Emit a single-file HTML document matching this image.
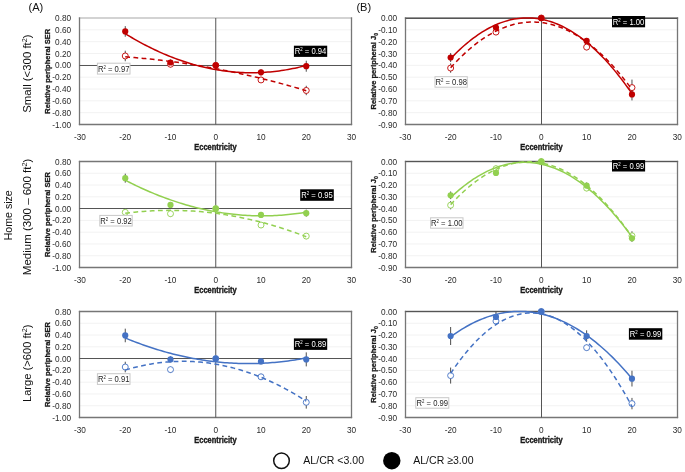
<!DOCTYPE html>
<html><head><meta charset="utf-8"><style>html,body{margin:0;padding:0;background:#fff;}svg{display:block;will-change:transform;}</style></head>
<body><svg width="685" height="472" viewBox="0 0 685 472"><rect width="685" height="472" fill="#fff"/><line x1="79.5" y1="29.83" x2="351.5" y2="29.83" stroke="#f2f2f2" stroke-width="1"/><line x1="79.5" y1="41.67" x2="351.5" y2="41.67" stroke="#f2f2f2" stroke-width="1"/><line x1="79.5" y1="53.50" x2="351.5" y2="53.50" stroke="#f2f2f2" stroke-width="1"/><line x1="79.5" y1="65.33" x2="351.5" y2="65.33" stroke="#f2f2f2" stroke-width="1"/><line x1="79.5" y1="77.17" x2="351.5" y2="77.17" stroke="#f2f2f2" stroke-width="1"/><line x1="79.5" y1="89.00" x2="351.5" y2="89.00" stroke="#f2f2f2" stroke-width="1"/><line x1="79.5" y1="100.83" x2="351.5" y2="100.83" stroke="#f2f2f2" stroke-width="1"/><line x1="79.5" y1="112.67" x2="351.5" y2="112.67" stroke="#f2f2f2" stroke-width="1"/><line x1="79.5" y1="18.0" x2="351.5" y2="18.0" stroke="#c4c4c4" stroke-width="1.3" stroke-linecap="square"/><line x1="79.5" y1="18.0" x2="79.5" y2="124.5" stroke="#767676" stroke-width="1.3" stroke-linecap="square"/><line x1="351.5" y1="18.0" x2="351.5" y2="124.5" stroke="#767676" stroke-width="1.3" stroke-linecap="square"/><line x1="79.5" y1="124.5" x2="351.5" y2="124.5" stroke="#767676" stroke-width="1.3" stroke-linecap="square"/><line x1="215.75" y1="18.0" x2="215.75" y2="124.5" stroke="#555" stroke-width="1"/><line x1="79.5" y1="65.50" x2="351.5" y2="65.50" stroke="#555" stroke-width="1"/><text transform="translate(71.10,21.00) scale(0.95,1)" font-family="Liberation Sans, sans-serif" font-size="8.7" fill="#2a2a2a" text-anchor="end">0.80</text><text transform="translate(71.10,32.83) scale(0.95,1)" font-family="Liberation Sans, sans-serif" font-size="8.7" fill="#2a2a2a" text-anchor="end">0.60</text><text transform="translate(71.10,44.67) scale(0.95,1)" font-family="Liberation Sans, sans-serif" font-size="8.7" fill="#2a2a2a" text-anchor="end">0.40</text><text transform="translate(71.10,56.50) scale(0.95,1)" font-family="Liberation Sans, sans-serif" font-size="8.7" fill="#2a2a2a" text-anchor="end">0.20</text><text transform="translate(71.10,68.33) scale(0.95,1)" font-family="Liberation Sans, sans-serif" font-size="8.7" fill="#2a2a2a" text-anchor="end">0.00</text><text transform="translate(71.10,80.17) scale(0.95,1)" font-family="Liberation Sans, sans-serif" font-size="8.7" fill="#2a2a2a" text-anchor="end">-0.20</text><text transform="translate(71.10,92.00) scale(0.95,1)" font-family="Liberation Sans, sans-serif" font-size="8.7" fill="#2a2a2a" text-anchor="end">-0.40</text><text transform="translate(71.10,103.83) scale(0.95,1)" font-family="Liberation Sans, sans-serif" font-size="8.7" fill="#2a2a2a" text-anchor="end">-0.60</text><text transform="translate(71.10,115.67) scale(0.95,1)" font-family="Liberation Sans, sans-serif" font-size="8.7" fill="#2a2a2a" text-anchor="end">-0.80</text><text transform="translate(71.10,127.50) scale(0.95,1)" font-family="Liberation Sans, sans-serif" font-size="8.7" fill="#2a2a2a" text-anchor="end">-1.00</text><text transform="translate(80.00,139.50) scale(0.95,1)" font-family="Liberation Sans, sans-serif" font-size="8.7" fill="#2a2a2a" text-anchor="middle">-30</text><text transform="translate(125.25,139.50) scale(0.95,1)" font-family="Liberation Sans, sans-serif" font-size="8.7" fill="#2a2a2a" text-anchor="middle">-20</text><text transform="translate(170.50,139.50) scale(0.95,1)" font-family="Liberation Sans, sans-serif" font-size="8.7" fill="#2a2a2a" text-anchor="middle">-10</text><text transform="translate(215.75,139.50) scale(0.95,1)" font-family="Liberation Sans, sans-serif" font-size="8.7" fill="#2a2a2a" text-anchor="middle">0</text><text transform="translate(261.00,139.50) scale(0.95,1)" font-family="Liberation Sans, sans-serif" font-size="8.7" fill="#2a2a2a" text-anchor="middle">10</text><text transform="translate(306.25,139.50) scale(0.95,1)" font-family="Liberation Sans, sans-serif" font-size="8.7" fill="#2a2a2a" text-anchor="middle">20</text><text transform="translate(351.50,139.50) scale(0.95,1)" font-family="Liberation Sans, sans-serif" font-size="8.7" fill="#2a2a2a" text-anchor="middle">30</text><text transform="translate(215.50,150.00) scale(0.916,1)" font-family="Liberation Sans, sans-serif" font-size="8.2" font-weight="bold" fill="#1a1a1a" stroke="#1a1a1a" stroke-width="0.35" text-anchor="middle">Eccentricity</text><text transform="translate(50.3,71.25) rotate(-90) scale(0.955,1)" font-family="Liberation Sans, sans-serif" font-size="7.9" font-weight="bold" fill="#1a1a1a" stroke="#1a1a1a" stroke-width="0.3" text-anchor="middle">Relative peripheral SER</text><line x1="125.25" y1="50.69" x2="125.25" y2="61.28" stroke="#4d4d4d" stroke-width="1"/><line x1="125.25" y1="26.13" x2="125.25" y2="36.73" stroke="#4d4d4d" stroke-width="1"/><line x1="170.50" y1="61.27" x2="170.50" y2="67.27" stroke="#4d4d4d" stroke-width="1"/><line x1="170.50" y1="59.49" x2="170.50" y2="65.49" stroke="#4d4d4d" stroke-width="1"/><line x1="215.75" y1="62.33" x2="215.75" y2="68.33" stroke="#4d4d4d" stroke-width="1"/><line x1="215.75" y1="62.33" x2="215.75" y2="68.33" stroke="#4d4d4d" stroke-width="1"/><line x1="261.00" y1="76.95" x2="261.00" y2="82.95" stroke="#4d4d4d" stroke-width="1"/><line x1="261.00" y1="69.37" x2="261.00" y2="75.37" stroke="#4d4d4d" stroke-width="1"/><line x1="306.25" y1="85.78" x2="306.25" y2="95.18" stroke="#4d4d4d" stroke-width="1"/><line x1="306.25" y1="60.72" x2="306.25" y2="71.72" stroke="#4d4d4d" stroke-width="1"/><circle cx="125.25" cy="55.98" r="3.0" fill="#fff" stroke="#C00000" stroke-width="0.9"/><circle cx="170.50" cy="64.27" r="3.0" fill="#fff" stroke="#C00000" stroke-width="0.9"/><circle cx="215.75" cy="65.33" r="3.0" fill="#fff" stroke="#C00000" stroke-width="0.9"/><circle cx="261.00" cy="79.95" r="3.0" fill="#fff" stroke="#C00000" stroke-width="0.9"/><circle cx="306.25" cy="90.48" r="3.0" fill="#fff" stroke="#C00000" stroke-width="0.9"/><circle cx="125.25" cy="31.43" r="3.1" fill="#C00000"/><circle cx="170.50" cy="62.49" r="3.1" fill="#C00000"/><circle cx="215.75" cy="65.33" r="3.1" fill="#C00000"/><circle cx="261.00" cy="72.37" r="3.1" fill="#C00000"/><circle cx="306.25" cy="66.22" r="3.1" fill="#C00000"/><path d="M125.25,56.85 L127.51,57.02 L129.78,57.19 L132.04,57.37 L134.30,57.56 L136.56,57.76 L138.82,57.96 L141.09,58.16 L143.35,58.38 L145.61,58.60 L147.88,58.82 L150.14,59.06 L152.40,59.30 L154.66,59.54 L156.93,59.80 L159.19,60.06 L161.45,60.32 L163.71,60.59 L165.97,60.87 L168.24,61.16 L170.50,61.45 L172.76,61.74 L175.02,62.05 L177.29,62.36 L179.55,62.68 L181.81,63.00 L184.07,63.33 L186.34,63.67 L188.60,64.01 L190.86,64.36 L193.12,64.71 L195.39,65.08 L197.65,65.44 L199.91,65.82 L202.18,66.20 L204.44,66.59 L206.70,66.98 L208.96,67.38 L211.22,67.79 L213.49,68.20 L215.75,68.62 L218.01,69.05 L220.28,69.48 L222.54,69.92 L224.80,70.37 L227.06,70.82 L229.33,71.28 L231.59,71.75 L233.85,72.22 L236.11,72.70 L238.38,73.18 L240.64,73.67 L242.90,74.17 L245.16,74.67 L247.43,75.18 L249.69,75.70 L251.95,76.22 L254.21,76.75 L256.48,77.29 L258.74,77.83 L261.00,78.38 L263.26,78.94 L265.52,79.50 L267.79,80.07 L270.05,80.64 L272.31,81.22 L274.57,81.81 L276.84,82.40 L279.10,83.00 L281.36,83.61 L283.62,84.23 L285.89,84.84 L288.15,85.47 L290.41,86.10 L292.68,86.74 L294.94,87.39 L297.20,88.04 L299.46,88.70 L301.73,89.36 L303.99,90.04 L306.25,90.71" fill="none" stroke="#C00000" stroke-width="1.5" stroke-dasharray="4.8 3.4"/><path d="M125.25,33.65 L127.51,35.03 L129.78,36.40 L132.04,37.73 L134.30,39.05 L136.56,40.33 L138.82,41.60 L141.09,42.84 L143.35,44.05 L145.61,45.23 L147.88,46.40 L150.14,47.53 L152.40,48.65 L154.66,49.73 L156.93,50.80 L159.19,51.83 L161.45,52.84 L163.71,53.83 L165.97,54.79 L168.24,55.73 L170.50,56.64 L172.76,57.53 L175.02,58.39 L177.29,59.22 L179.55,60.04 L181.81,60.82 L184.07,61.58 L186.34,62.32 L188.60,63.03 L190.86,63.72 L193.12,64.38 L195.39,65.01 L197.65,65.62 L199.91,66.21 L202.18,66.77 L204.44,67.30 L206.70,67.81 L208.96,68.30 L211.22,68.76 L213.49,69.19 L215.75,69.60 L218.01,69.99 L220.28,70.35 L222.54,70.68 L224.80,70.99 L227.06,71.28 L229.33,71.54 L231.59,71.77 L233.85,71.98 L236.11,72.16 L238.38,72.32 L240.64,72.46 L242.90,72.57 L245.16,72.65 L247.43,72.71 L249.69,72.74 L251.95,72.75 L254.21,72.73 L256.48,72.69 L258.74,72.62 L261.00,72.53 L263.26,72.42 L265.52,72.27 L267.79,72.11 L270.05,71.92 L272.31,71.70 L274.57,71.46 L276.84,71.19 L279.10,70.90 L281.36,70.58 L283.62,70.24 L285.89,69.87 L288.15,69.48 L290.41,69.06 L292.68,68.61 L294.94,68.15 L297.20,67.65 L299.46,67.13 L301.73,66.59 L303.99,66.02 L306.25,65.43" fill="none" stroke="#C00000" stroke-width="1.5"/><line x1="79.5" y1="173.28" x2="351.5" y2="173.28" stroke="#f2f2f2" stroke-width="1"/><line x1="79.5" y1="185.06" x2="351.5" y2="185.06" stroke="#f2f2f2" stroke-width="1"/><line x1="79.5" y1="196.83" x2="351.5" y2="196.83" stroke="#f2f2f2" stroke-width="1"/><line x1="79.5" y1="208.61" x2="351.5" y2="208.61" stroke="#f2f2f2" stroke-width="1"/><line x1="79.5" y1="220.39" x2="351.5" y2="220.39" stroke="#f2f2f2" stroke-width="1"/><line x1="79.5" y1="232.17" x2="351.5" y2="232.17" stroke="#f2f2f2" stroke-width="1"/><line x1="79.5" y1="243.94" x2="351.5" y2="243.94" stroke="#f2f2f2" stroke-width="1"/><line x1="79.5" y1="255.72" x2="351.5" y2="255.72" stroke="#f2f2f2" stroke-width="1"/><line x1="79.5" y1="161.5" x2="351.5" y2="161.5" stroke="#767676" stroke-width="1.3" stroke-linecap="square"/><line x1="79.5" y1="161.5" x2="79.5" y2="267.5" stroke="#767676" stroke-width="1.3" stroke-linecap="square"/><line x1="351.5" y1="161.5" x2="351.5" y2="267.5" stroke="#767676" stroke-width="1.3" stroke-linecap="square"/><line x1="79.5" y1="267.5" x2="351.5" y2="267.5" stroke="#767676" stroke-width="1.3" stroke-linecap="square"/><line x1="215.75" y1="161.5" x2="215.75" y2="267.5" stroke="#555" stroke-width="1"/><line x1="79.5" y1="208.50" x2="351.5" y2="208.50" stroke="#555" stroke-width="1"/><text transform="translate(71.10,164.50) scale(0.95,1)" font-family="Liberation Sans, sans-serif" font-size="8.7" fill="#2a2a2a" text-anchor="end">0.80</text><text transform="translate(71.10,176.28) scale(0.95,1)" font-family="Liberation Sans, sans-serif" font-size="8.7" fill="#2a2a2a" text-anchor="end">0.60</text><text transform="translate(71.10,188.06) scale(0.95,1)" font-family="Liberation Sans, sans-serif" font-size="8.7" fill="#2a2a2a" text-anchor="end">0.40</text><text transform="translate(71.10,199.83) scale(0.95,1)" font-family="Liberation Sans, sans-serif" font-size="8.7" fill="#2a2a2a" text-anchor="end">0.20</text><text transform="translate(71.10,211.61) scale(0.95,1)" font-family="Liberation Sans, sans-serif" font-size="8.7" fill="#2a2a2a" text-anchor="end">0.00</text><text transform="translate(71.10,223.39) scale(0.95,1)" font-family="Liberation Sans, sans-serif" font-size="8.7" fill="#2a2a2a" text-anchor="end">-0.20</text><text transform="translate(71.10,235.17) scale(0.95,1)" font-family="Liberation Sans, sans-serif" font-size="8.7" fill="#2a2a2a" text-anchor="end">-0.40</text><text transform="translate(71.10,246.94) scale(0.95,1)" font-family="Liberation Sans, sans-serif" font-size="8.7" fill="#2a2a2a" text-anchor="end">-0.60</text><text transform="translate(71.10,258.72) scale(0.95,1)" font-family="Liberation Sans, sans-serif" font-size="8.7" fill="#2a2a2a" text-anchor="end">-0.80</text><text transform="translate(71.10,270.50) scale(0.95,1)" font-family="Liberation Sans, sans-serif" font-size="8.7" fill="#2a2a2a" text-anchor="end">-1.00</text><text transform="translate(80.00,282.50) scale(0.95,1)" font-family="Liberation Sans, sans-serif" font-size="8.7" fill="#2a2a2a" text-anchor="middle">-30</text><text transform="translate(125.25,282.50) scale(0.95,1)" font-family="Liberation Sans, sans-serif" font-size="8.7" fill="#2a2a2a" text-anchor="middle">-20</text><text transform="translate(170.50,282.50) scale(0.95,1)" font-family="Liberation Sans, sans-serif" font-size="8.7" fill="#2a2a2a" text-anchor="middle">-10</text><text transform="translate(215.75,282.50) scale(0.95,1)" font-family="Liberation Sans, sans-serif" font-size="8.7" fill="#2a2a2a" text-anchor="middle">0</text><text transform="translate(261.00,282.50) scale(0.95,1)" font-family="Liberation Sans, sans-serif" font-size="8.7" fill="#2a2a2a" text-anchor="middle">10</text><text transform="translate(306.25,282.50) scale(0.95,1)" font-family="Liberation Sans, sans-serif" font-size="8.7" fill="#2a2a2a" text-anchor="middle">20</text><text transform="translate(351.50,282.50) scale(0.95,1)" font-family="Liberation Sans, sans-serif" font-size="8.7" fill="#2a2a2a" text-anchor="middle">30</text><text transform="translate(215.50,293.00) scale(0.916,1)" font-family="Liberation Sans, sans-serif" font-size="8.2" font-weight="bold" fill="#1a1a1a" stroke="#1a1a1a" stroke-width="0.35" text-anchor="middle">Eccentricity</text><text transform="translate(50.3,214.50) rotate(-90) scale(0.955,1)" font-family="Liberation Sans, sans-serif" font-size="7.9" font-weight="bold" fill="#1a1a1a" stroke="#1a1a1a" stroke-width="0.3" text-anchor="middle">Relative peripheral SER</text><line x1="125.25" y1="209.32" x2="125.25" y2="215.32" stroke="#4d4d4d" stroke-width="1"/><line x1="125.25" y1="173.67" x2="125.25" y2="182.67" stroke="#4d4d4d" stroke-width="1"/><line x1="170.50" y1="210.73" x2="170.50" y2="216.73" stroke="#4d4d4d" stroke-width="1"/><line x1="170.50" y1="201.96" x2="170.50" y2="207.96" stroke="#4d4d4d" stroke-width="1"/><line x1="215.75" y1="205.61" x2="215.75" y2="211.61" stroke="#4d4d4d" stroke-width="1"/><line x1="215.75" y1="205.61" x2="215.75" y2="211.61" stroke="#4d4d4d" stroke-width="1"/><line x1="261.00" y1="222.04" x2="261.00" y2="228.04" stroke="#4d4d4d" stroke-width="1"/><line x1="261.00" y1="211.97" x2="261.00" y2="217.97" stroke="#4d4d4d" stroke-width="1"/><line x1="306.25" y1="233.11" x2="306.25" y2="239.11" stroke="#4d4d4d" stroke-width="1"/><line x1="306.25" y1="209.65" x2="306.25" y2="216.65" stroke="#4d4d4d" stroke-width="1"/><circle cx="125.25" cy="212.32" r="3.0" fill="#fff" stroke="#92D050" stroke-width="0.9"/><circle cx="170.50" cy="213.73" r="3.0" fill="#fff" stroke="#92D050" stroke-width="0.9"/><circle cx="215.75" cy="208.61" r="3.0" fill="#fff" stroke="#92D050" stroke-width="0.9"/><circle cx="261.00" cy="225.04" r="3.0" fill="#fff" stroke="#92D050" stroke-width="0.9"/><circle cx="306.25" cy="236.11" r="3.0" fill="#fff" stroke="#92D050" stroke-width="0.9"/><circle cx="125.25" cy="178.17" r="3.1" fill="#92D050"/><circle cx="170.50" cy="204.96" r="3.1" fill="#92D050"/><circle cx="215.75" cy="208.61" r="3.1" fill="#92D050"/><circle cx="261.00" cy="214.97" r="3.1" fill="#92D050"/><circle cx="306.25" cy="213.15" r="3.1" fill="#92D050"/><path d="M125.25,213.22 L127.51,212.94 L129.78,212.68 L132.04,212.42 L134.30,212.18 L136.56,211.96 L138.82,211.75 L141.09,211.56 L143.35,211.38 L145.61,211.21 L147.88,211.06 L150.14,210.92 L152.40,210.80 L154.66,210.70 L156.93,210.60 L159.19,210.53 L161.45,210.46 L163.71,210.41 L165.97,210.38 L168.24,210.36 L170.50,210.36 L172.76,210.37 L175.02,210.39 L177.29,210.43 L179.55,210.48 L181.81,210.55 L184.07,210.63 L186.34,210.73 L188.60,210.84 L190.86,210.97 L193.12,211.11 L195.39,211.27 L197.65,211.44 L199.91,211.62 L202.18,211.82 L204.44,212.04 L206.70,212.26 L208.96,212.51 L211.22,212.77 L213.49,213.04 L215.75,213.33 L218.01,213.63 L220.28,213.94 L222.54,214.27 L224.80,214.62 L227.06,214.98 L229.33,215.35 L231.59,215.74 L233.85,216.15 L236.11,216.57 L238.38,217.00 L240.64,217.45 L242.90,217.91 L245.16,218.39 L247.43,218.88 L249.69,219.38 L251.95,219.90 L254.21,220.44 L256.48,220.99 L258.74,221.55 L261.00,222.13 L263.26,222.73 L265.52,223.34 L267.79,223.96 L270.05,224.60 L272.31,225.25 L274.57,225.91 L276.84,226.60 L279.10,227.29 L281.36,228.00 L283.62,228.73 L285.89,229.47 L288.15,230.22 L290.41,230.99 L292.68,231.77 L294.94,232.57 L297.20,233.38 L299.46,234.21 L301.73,235.05 L303.99,235.91 L306.25,236.78" fill="none" stroke="#92D050" stroke-width="1.5" stroke-dasharray="4.8 3.4"/><path d="M125.25,180.19 L127.51,181.36 L129.78,182.51 L132.04,183.64 L134.30,184.75 L136.56,185.84 L138.82,186.91 L141.09,187.96 L143.35,188.99 L145.61,190.01 L147.88,191.00 L150.14,191.98 L152.40,192.93 L154.66,193.87 L156.93,194.78 L159.19,195.68 L161.45,196.56 L163.71,197.41 L165.97,198.25 L168.24,199.07 L170.50,199.87 L172.76,200.65 L175.02,201.41 L177.29,202.15 L179.55,202.87 L181.81,203.57 L184.07,204.25 L186.34,204.92 L188.60,205.56 L190.86,206.18 L193.12,206.79 L195.39,207.37 L197.65,207.94 L199.91,208.48 L202.18,209.01 L204.44,209.52 L206.70,210.01 L208.96,210.47 L211.22,210.92 L213.49,211.35 L215.75,211.76 L218.01,212.15 L220.28,212.52 L222.54,212.87 L224.80,213.20 L227.06,213.52 L229.33,213.81 L231.59,214.08 L233.85,214.34 L236.11,214.57 L238.38,214.79 L240.64,214.98 L242.90,215.16 L245.16,215.31 L247.43,215.45 L249.69,215.57 L251.95,215.67 L254.21,215.74 L256.48,215.80 L258.74,215.84 L261.00,215.86 L263.26,215.86 L265.52,215.84 L267.79,215.81 L270.05,215.75 L272.31,215.67 L274.57,215.57 L276.84,215.46 L279.10,215.32 L281.36,215.17 L283.62,214.99 L285.89,214.80 L288.15,214.58 L290.41,214.35 L292.68,214.10 L294.94,213.83 L297.20,213.54 L299.46,213.22 L301.73,212.89 L303.99,212.54 L306.25,212.17" fill="none" stroke="#92D050" stroke-width="1.5"/><line x1="79.5" y1="323.28" x2="351.5" y2="323.28" stroke="#f2f2f2" stroke-width="1"/><line x1="79.5" y1="335.06" x2="351.5" y2="335.06" stroke="#f2f2f2" stroke-width="1"/><line x1="79.5" y1="346.83" x2="351.5" y2="346.83" stroke="#f2f2f2" stroke-width="1"/><line x1="79.5" y1="358.61" x2="351.5" y2="358.61" stroke="#f2f2f2" stroke-width="1"/><line x1="79.5" y1="370.39" x2="351.5" y2="370.39" stroke="#f2f2f2" stroke-width="1"/><line x1="79.5" y1="382.17" x2="351.5" y2="382.17" stroke="#f2f2f2" stroke-width="1"/><line x1="79.5" y1="393.94" x2="351.5" y2="393.94" stroke="#f2f2f2" stroke-width="1"/><line x1="79.5" y1="405.72" x2="351.5" y2="405.72" stroke="#f2f2f2" stroke-width="1"/><line x1="79.5" y1="311.5" x2="351.5" y2="311.5" stroke="#767676" stroke-width="1.3" stroke-linecap="square"/><line x1="79.5" y1="311.5" x2="79.5" y2="417.5" stroke="#767676" stroke-width="1.3" stroke-linecap="square"/><line x1="351.5" y1="311.5" x2="351.5" y2="417.5" stroke="#767676" stroke-width="1.3" stroke-linecap="square"/><line x1="79.5" y1="417.5" x2="351.5" y2="417.5" stroke="#767676" stroke-width="1.3" stroke-linecap="square"/><line x1="215.75" y1="311.5" x2="215.75" y2="417.5" stroke="#555" stroke-width="1"/><line x1="79.5" y1="358.50" x2="351.5" y2="358.50" stroke="#555" stroke-width="1"/><text transform="translate(71.10,314.50) scale(0.95,1)" font-family="Liberation Sans, sans-serif" font-size="8.7" fill="#2a2a2a" text-anchor="end">0.80</text><text transform="translate(71.10,326.28) scale(0.95,1)" font-family="Liberation Sans, sans-serif" font-size="8.7" fill="#2a2a2a" text-anchor="end">0.60</text><text transform="translate(71.10,338.06) scale(0.95,1)" font-family="Liberation Sans, sans-serif" font-size="8.7" fill="#2a2a2a" text-anchor="end">0.40</text><text transform="translate(71.10,349.83) scale(0.95,1)" font-family="Liberation Sans, sans-serif" font-size="8.7" fill="#2a2a2a" text-anchor="end">0.20</text><text transform="translate(71.10,361.61) scale(0.95,1)" font-family="Liberation Sans, sans-serif" font-size="8.7" fill="#2a2a2a" text-anchor="end">0.00</text><text transform="translate(71.10,373.39) scale(0.95,1)" font-family="Liberation Sans, sans-serif" font-size="8.7" fill="#2a2a2a" text-anchor="end">-0.20</text><text transform="translate(71.10,385.17) scale(0.95,1)" font-family="Liberation Sans, sans-serif" font-size="8.7" fill="#2a2a2a" text-anchor="end">-0.40</text><text transform="translate(71.10,396.94) scale(0.95,1)" font-family="Liberation Sans, sans-serif" font-size="8.7" fill="#2a2a2a" text-anchor="end">-0.60</text><text transform="translate(71.10,408.72) scale(0.95,1)" font-family="Liberation Sans, sans-serif" font-size="8.7" fill="#2a2a2a" text-anchor="end">-0.80</text><text transform="translate(71.10,420.50) scale(0.95,1)" font-family="Liberation Sans, sans-serif" font-size="8.7" fill="#2a2a2a" text-anchor="end">-1.00</text><text transform="translate(80.00,432.50) scale(0.95,1)" font-family="Liberation Sans, sans-serif" font-size="8.7" fill="#2a2a2a" text-anchor="middle">-30</text><text transform="translate(125.25,432.50) scale(0.95,1)" font-family="Liberation Sans, sans-serif" font-size="8.7" fill="#2a2a2a" text-anchor="middle">-20</text><text transform="translate(170.50,432.50) scale(0.95,1)" font-family="Liberation Sans, sans-serif" font-size="8.7" fill="#2a2a2a" text-anchor="middle">-10</text><text transform="translate(215.75,432.50) scale(0.95,1)" font-family="Liberation Sans, sans-serif" font-size="8.7" fill="#2a2a2a" text-anchor="middle">0</text><text transform="translate(261.00,432.50) scale(0.95,1)" font-family="Liberation Sans, sans-serif" font-size="8.7" fill="#2a2a2a" text-anchor="middle">10</text><text transform="translate(306.25,432.50) scale(0.95,1)" font-family="Liberation Sans, sans-serif" font-size="8.7" fill="#2a2a2a" text-anchor="middle">20</text><text transform="translate(351.50,432.50) scale(0.95,1)" font-family="Liberation Sans, sans-serif" font-size="8.7" fill="#2a2a2a" text-anchor="middle">30</text><text transform="translate(215.50,443.00) scale(0.916,1)" font-family="Liberation Sans, sans-serif" font-size="8.2" font-weight="bold" fill="#1a1a1a" stroke="#1a1a1a" stroke-width="0.35" text-anchor="middle">Eccentricity</text><text transform="translate(50.3,364.50) rotate(-90) scale(0.955,1)" font-family="Liberation Sans, sans-serif" font-size="7.9" font-weight="bold" fill="#1a1a1a" stroke="#1a1a1a" stroke-width="0.3" text-anchor="middle">Relative peripheral SER</text><line x1="125.25" y1="361.73" x2="125.25" y2="372.33" stroke="#4d4d4d" stroke-width="1"/><line x1="125.25" y1="328.67" x2="125.25" y2="342.27" stroke="#4d4d4d" stroke-width="1"/><line x1="170.50" y1="366.62" x2="170.50" y2="372.62" stroke="#4d4d4d" stroke-width="1"/><line x1="170.50" y1="356.44" x2="170.50" y2="362.44" stroke="#4d4d4d" stroke-width="1"/><line x1="215.75" y1="355.61" x2="215.75" y2="361.61" stroke="#4d4d4d" stroke-width="1"/><line x1="215.75" y1="355.61" x2="215.75" y2="361.61" stroke="#4d4d4d" stroke-width="1"/><line x1="261.00" y1="373.81" x2="261.00" y2="379.81" stroke="#4d4d4d" stroke-width="1"/><line x1="261.00" y1="358.44" x2="261.00" y2="364.44" stroke="#4d4d4d" stroke-width="1"/><line x1="306.25" y1="396.01" x2="306.25" y2="408.61" stroke="#4d4d4d" stroke-width="1"/><line x1="306.25" y1="352.38" x2="306.25" y2="366.38" stroke="#4d4d4d" stroke-width="1"/><circle cx="125.25" cy="367.03" r="3.0" fill="#fff" stroke="#4472C4" stroke-width="0.9"/><circle cx="170.50" cy="369.62" r="3.0" fill="#fff" stroke="#4472C4" stroke-width="0.9"/><circle cx="215.75" cy="358.61" r="3.0" fill="#fff" stroke="#4472C4" stroke-width="0.9"/><circle cx="261.00" cy="376.81" r="3.0" fill="#fff" stroke="#4472C4" stroke-width="0.9"/><circle cx="306.25" cy="402.31" r="3.0" fill="#fff" stroke="#4472C4" stroke-width="0.9"/><circle cx="125.25" cy="335.47" r="3.1" fill="#4472C4"/><circle cx="170.50" cy="359.44" r="3.1" fill="#4472C4"/><circle cx="215.75" cy="358.61" r="3.1" fill="#4472C4"/><circle cx="261.00" cy="361.44" r="3.1" fill="#4472C4"/><circle cx="306.25" cy="359.38" r="3.1" fill="#4472C4"/><path d="M125.25,370.05 L127.51,369.38 L129.78,368.73 L132.04,368.12 L134.30,367.53 L136.56,366.97 L138.82,366.43 L141.09,365.92 L143.35,365.44 L145.61,364.98 L147.88,364.56 L150.14,364.15 L152.40,363.78 L154.66,363.43 L156.93,363.11 L159.19,362.82 L161.45,362.55 L163.71,362.31 L165.97,362.09 L168.24,361.90 L170.50,361.74 L172.76,361.61 L175.02,361.50 L177.29,361.42 L179.55,361.37 L181.81,361.34 L184.07,361.34 L186.34,361.37 L188.60,361.42 L190.86,361.50 L193.12,361.61 L195.39,361.75 L197.65,361.91 L199.91,362.09 L202.18,362.31 L204.44,362.55 L206.70,362.82 L208.96,363.11 L211.22,363.43 L213.49,363.78 L215.75,364.16 L218.01,364.56 L220.28,364.99 L222.54,365.45 L224.80,365.93 L227.06,366.44 L229.33,366.97 L231.59,367.54 L233.85,368.13 L236.11,368.74 L238.38,369.38 L240.64,370.05 L242.90,370.75 L245.16,371.48 L247.43,372.23 L249.69,373.00 L251.95,373.81 L254.21,374.64 L256.48,375.50 L258.74,376.38 L261.00,377.29 L263.26,378.23 L265.52,379.19 L267.79,380.18 L270.05,381.20 L272.31,382.25 L274.57,383.32 L276.84,384.42 L279.10,385.54 L281.36,386.70 L283.62,387.88 L285.89,389.08 L288.15,390.31 L290.41,391.57 L292.68,392.86 L294.94,394.17 L297.20,395.51 L299.46,396.88 L301.73,398.27 L303.99,399.69 L306.25,401.14" fill="none" stroke="#4472C4" stroke-width="1.5" stroke-dasharray="4.8 3.4"/><path d="M125.25,337.99 L127.51,338.92 L129.78,339.83 L132.04,340.73 L134.30,341.61 L136.56,342.47 L138.82,343.32 L141.09,344.15 L143.35,344.96 L145.61,345.75 L147.88,346.53 L150.14,347.29 L152.40,348.03 L154.66,348.75 L156.93,349.46 L159.19,350.15 L161.45,350.82 L163.71,351.48 L165.97,352.12 L168.24,352.74 L170.50,353.34 L172.76,353.93 L175.02,354.50 L177.29,355.05 L179.55,355.58 L181.81,356.10 L184.07,356.60 L186.34,357.08 L188.60,357.55 L190.86,357.99 L193.12,358.43 L195.39,358.84 L197.65,359.23 L199.91,359.61 L202.18,359.98 L204.44,360.32 L206.70,360.65 L208.96,360.96 L211.22,361.25 L213.49,361.52 L215.75,361.78 L218.01,362.02 L220.28,362.24 L222.54,362.45 L224.80,362.64 L227.06,362.81 L229.33,362.96 L231.59,363.10 L233.85,363.22 L236.11,363.32 L238.38,363.41 L240.64,363.48 L242.90,363.53 L245.16,363.56 L247.43,363.57 L249.69,363.57 L251.95,363.55 L254.21,363.52 L256.48,363.46 L258.74,363.39 L261.00,363.31 L263.26,363.20 L265.52,363.08 L267.79,362.94 L270.05,362.78 L272.31,362.61 L274.57,362.41 L276.84,362.21 L279.10,361.98 L281.36,361.74 L283.62,361.47 L285.89,361.20 L288.15,360.90 L290.41,360.59 L292.68,360.26 L294.94,359.91 L297.20,359.55 L299.46,359.16 L301.73,358.76 L303.99,358.35 L306.25,357.91" fill="none" stroke="#4472C4" stroke-width="1.5"/><line x1="405.5" y1="29.83" x2="677.5" y2="29.83" stroke="#f2f2f2" stroke-width="1"/><line x1="405.5" y1="41.67" x2="677.5" y2="41.67" stroke="#f2f2f2" stroke-width="1"/><line x1="405.5" y1="53.50" x2="677.5" y2="53.50" stroke="#f2f2f2" stroke-width="1"/><line x1="405.5" y1="65.33" x2="677.5" y2="65.33" stroke="#f2f2f2" stroke-width="1"/><line x1="405.5" y1="77.17" x2="677.5" y2="77.17" stroke="#f2f2f2" stroke-width="1"/><line x1="405.5" y1="89.00" x2="677.5" y2="89.00" stroke="#f2f2f2" stroke-width="1"/><line x1="405.5" y1="100.83" x2="677.5" y2="100.83" stroke="#f2f2f2" stroke-width="1"/><line x1="405.5" y1="112.67" x2="677.5" y2="112.67" stroke="#f2f2f2" stroke-width="1"/><line x1="405.5" y1="18.0" x2="677.5" y2="18.0" stroke="#767676" stroke-width="1.3" stroke-linecap="square"/><line x1="405.5" y1="18.0" x2="405.5" y2="124.5" stroke="#767676" stroke-width="1.3" stroke-linecap="square"/><line x1="677.5" y1="18.0" x2="677.5" y2="124.5" stroke="#767676" stroke-width="1.3" stroke-linecap="square"/><line x1="405.5" y1="124.5" x2="677.5" y2="124.5" stroke="#767676" stroke-width="1.3" stroke-linecap="square"/><line x1="541.50" y1="18.0" x2="541.50" y2="124.5" stroke="#555" stroke-width="1"/><line x1="405.5" y1="18.50" x2="677.5" y2="18.50" stroke="#555" stroke-width="1"/><text transform="translate(397.10,21.00) scale(0.95,1)" font-family="Liberation Sans, sans-serif" font-size="8.7" fill="#2a2a2a" text-anchor="end">0.00</text><text transform="translate(397.10,32.83) scale(0.95,1)" font-family="Liberation Sans, sans-serif" font-size="8.7" fill="#2a2a2a" text-anchor="end">-0.10</text><text transform="translate(397.10,44.67) scale(0.95,1)" font-family="Liberation Sans, sans-serif" font-size="8.7" fill="#2a2a2a" text-anchor="end">-0.20</text><text transform="translate(397.10,56.50) scale(0.95,1)" font-family="Liberation Sans, sans-serif" font-size="8.7" fill="#2a2a2a" text-anchor="end">-0.30</text><text transform="translate(397.10,68.33) scale(0.95,1)" font-family="Liberation Sans, sans-serif" font-size="8.7" fill="#2a2a2a" text-anchor="end">-0.40</text><text transform="translate(397.10,80.17) scale(0.95,1)" font-family="Liberation Sans, sans-serif" font-size="8.7" fill="#2a2a2a" text-anchor="end">-0.50</text><text transform="translate(397.10,92.00) scale(0.95,1)" font-family="Liberation Sans, sans-serif" font-size="8.7" fill="#2a2a2a" text-anchor="end">-0.60</text><text transform="translate(397.10,103.83) scale(0.95,1)" font-family="Liberation Sans, sans-serif" font-size="8.7" fill="#2a2a2a" text-anchor="end">-0.70</text><text transform="translate(397.10,115.67) scale(0.95,1)" font-family="Liberation Sans, sans-serif" font-size="8.7" fill="#2a2a2a" text-anchor="end">-0.80</text><text transform="translate(397.10,127.50) scale(0.95,1)" font-family="Liberation Sans, sans-serif" font-size="8.7" fill="#2a2a2a" text-anchor="end">-0.90</text><text transform="translate(405.30,139.50) scale(0.95,1)" font-family="Liberation Sans, sans-serif" font-size="8.7" fill="#2a2a2a" text-anchor="middle">-30</text><text transform="translate(450.63,139.50) scale(0.95,1)" font-family="Liberation Sans, sans-serif" font-size="8.7" fill="#2a2a2a" text-anchor="middle">-20</text><text transform="translate(495.97,139.50) scale(0.95,1)" font-family="Liberation Sans, sans-serif" font-size="8.7" fill="#2a2a2a" text-anchor="middle">-10</text><text transform="translate(541.30,139.50) scale(0.95,1)" font-family="Liberation Sans, sans-serif" font-size="8.7" fill="#2a2a2a" text-anchor="middle">0</text><text transform="translate(586.63,139.50) scale(0.95,1)" font-family="Liberation Sans, sans-serif" font-size="8.7" fill="#2a2a2a" text-anchor="middle">10</text><text transform="translate(631.97,139.50) scale(0.95,1)" font-family="Liberation Sans, sans-serif" font-size="8.7" fill="#2a2a2a" text-anchor="middle">20</text><text transform="translate(677.30,139.50) scale(0.95,1)" font-family="Liberation Sans, sans-serif" font-size="8.7" fill="#2a2a2a" text-anchor="middle">30</text><text transform="translate(541.50,150.00) scale(0.916,1)" font-family="Liberation Sans, sans-serif" font-size="8.2" font-weight="bold" fill="#1a1a1a" stroke="#1a1a1a" stroke-width="0.35" text-anchor="middle">Eccentricity</text><text transform="translate(376.0,71.25) rotate(-90) scale(0.955,1)" font-family="Liberation Sans, sans-serif" font-size="7.9" font-weight="bold" fill="#1a1a1a" stroke="#1a1a1a" stroke-width="0.3" text-anchor="middle">Relative peripheral J<tspan font-size="5.4" dy="1.9">0</tspan></text><line x1="450.63" y1="63.36" x2="450.63" y2="72.76" stroke="#4d4d4d" stroke-width="1"/><line x1="450.63" y1="53.02" x2="450.63" y2="62.02" stroke="#4d4d4d" stroke-width="1"/><line x1="495.97" y1="29.08" x2="495.97" y2="35.08" stroke="#4d4d4d" stroke-width="1"/><line x1="495.97" y1="24.59" x2="495.97" y2="30.59" stroke="#4d4d4d" stroke-width="1"/><line x1="541.30" y1="15.00" x2="541.30" y2="21.00" stroke="#4d4d4d" stroke-width="1"/><line x1="541.30" y1="15.00" x2="541.30" y2="21.00" stroke="#4d4d4d" stroke-width="1"/><line x1="586.63" y1="44.11" x2="586.63" y2="50.11" stroke="#4d4d4d" stroke-width="1"/><line x1="586.63" y1="37.96" x2="586.63" y2="43.96" stroke="#4d4d4d" stroke-width="1"/><line x1="631.97" y1="79.58" x2="631.97" y2="95.58" stroke="#4d4d4d" stroke-width="1"/><line x1="631.97" y1="88.44" x2="631.97" y2="100.44" stroke="#4d4d4d" stroke-width="1"/><circle cx="450.63" cy="68.06" r="3.0" fill="#fff" stroke="#C00000" stroke-width="0.9"/><circle cx="495.97" cy="32.08" r="3.0" fill="#fff" stroke="#C00000" stroke-width="0.9"/><circle cx="541.30" cy="18.00" r="3.0" fill="#fff" stroke="#C00000" stroke-width="0.9"/><circle cx="586.63" cy="47.11" r="3.0" fill="#fff" stroke="#C00000" stroke-width="0.9"/><circle cx="631.97" cy="87.58" r="3.0" fill="#fff" stroke="#C00000" stroke-width="0.9"/><circle cx="450.63" cy="57.52" r="3.1" fill="#C00000"/><circle cx="495.97" cy="27.59" r="3.1" fill="#C00000"/><circle cx="541.30" cy="18.00" r="3.1" fill="#C00000"/><circle cx="586.63" cy="40.96" r="3.1" fill="#C00000"/><circle cx="631.97" cy="94.44" r="3.1" fill="#C00000"/><path d="M450.63,67.76 L452.90,65.27 L455.17,62.84 L457.43,60.48 L459.70,58.20 L461.97,55.98 L464.23,53.84 L466.50,51.76 L468.77,49.76 L471.03,47.82 L473.30,45.95 L475.57,44.16 L477.83,42.43 L480.10,40.78 L482.37,39.19 L484.63,37.68 L486.90,36.23 L489.17,34.86 L491.43,33.55 L493.70,32.32 L495.97,31.15 L498.23,30.06 L500.50,29.03 L502.77,28.08 L505.03,27.19 L507.30,26.38 L509.57,25.63 L511.83,24.96 L514.10,24.35 L516.37,23.82 L518.63,23.35 L520.90,22.96 L523.17,22.63 L525.43,22.38 L527.70,22.19 L529.97,22.08 L532.23,22.03 L534.50,22.06 L536.77,22.15 L539.03,22.32 L541.30,22.55 L543.57,22.86 L545.83,23.23 L548.10,23.68 L550.37,24.20 L552.63,24.78 L554.90,25.44 L557.17,26.16 L559.43,26.96 L561.70,27.82 L563.97,28.76 L566.23,29.77 L568.50,30.84 L570.77,31.99 L573.03,33.20 L575.30,34.49 L577.57,35.84 L579.83,37.27 L582.10,38.77 L584.37,40.33 L586.63,41.97 L588.90,43.67 L591.17,45.45 L593.43,47.30 L595.70,49.21 L597.97,51.20 L600.23,53.25 L602.50,55.38 L604.77,57.58 L607.03,59.84 L609.30,62.18 L611.57,64.58 L613.83,67.06 L616.10,69.61 L618.37,72.22 L620.63,74.91 L622.90,77.67 L625.17,80.49 L627.43,83.39 L629.70,86.36 L631.97,89.39" fill="none" stroke="#C00000" stroke-width="1.5" stroke-dasharray="4.8 3.4"/><path d="M450.63,58.74 L452.90,56.37 L455.17,54.06 L457.43,51.83 L459.70,49.66 L461.97,47.57 L464.23,45.55 L466.50,43.60 L468.77,41.72 L471.03,39.92 L473.30,38.18 L475.57,36.52 L477.83,34.92 L480.10,33.40 L482.37,31.95 L484.63,30.57 L486.90,29.26 L489.17,28.02 L491.43,26.86 L493.70,25.76 L495.97,24.74 L498.23,23.79 L500.50,22.90 L502.77,22.09 L505.03,21.36 L507.30,20.69 L509.57,20.09 L511.83,19.57 L514.10,19.11 L516.37,18.73 L518.63,18.42 L520.90,18.18 L523.17,18.01 L525.43,17.91 L527.70,17.88 L529.97,17.93 L532.23,18.04 L534.50,18.23 L536.77,18.49 L539.03,18.82 L541.30,19.22 L543.57,19.69 L545.83,20.23 L548.10,20.85 L550.37,21.53 L552.63,22.29 L554.90,23.12 L557.17,24.01 L559.43,24.98 L561.70,26.03 L563.97,27.14 L566.23,28.32 L568.50,29.58 L570.77,30.90 L573.03,32.30 L575.30,33.77 L577.57,35.31 L579.83,36.92 L582.10,38.60 L584.37,40.36 L586.63,42.18 L588.90,44.08 L591.17,46.04 L593.43,48.08 L595.70,50.19 L597.97,52.37 L600.23,54.62 L602.50,56.95 L604.77,59.34 L607.03,61.81 L609.30,64.34 L611.57,66.95 L613.83,69.63 L616.10,72.38 L618.37,75.20 L620.63,78.10 L622.90,81.06 L625.17,84.10 L627.43,87.20 L629.70,90.38 L631.97,93.63" fill="none" stroke="#C00000" stroke-width="1.5"/><line x1="405.5" y1="173.28" x2="677.5" y2="173.28" stroke="#f2f2f2" stroke-width="1"/><line x1="405.5" y1="185.06" x2="677.5" y2="185.06" stroke="#f2f2f2" stroke-width="1"/><line x1="405.5" y1="196.83" x2="677.5" y2="196.83" stroke="#f2f2f2" stroke-width="1"/><line x1="405.5" y1="208.61" x2="677.5" y2="208.61" stroke="#f2f2f2" stroke-width="1"/><line x1="405.5" y1="220.39" x2="677.5" y2="220.39" stroke="#f2f2f2" stroke-width="1"/><line x1="405.5" y1="232.17" x2="677.5" y2="232.17" stroke="#f2f2f2" stroke-width="1"/><line x1="405.5" y1="243.94" x2="677.5" y2="243.94" stroke="#f2f2f2" stroke-width="1"/><line x1="405.5" y1="255.72" x2="677.5" y2="255.72" stroke="#f2f2f2" stroke-width="1"/><line x1="405.5" y1="161.5" x2="677.5" y2="161.5" stroke="#767676" stroke-width="1.3" stroke-linecap="square"/><line x1="405.5" y1="161.5" x2="405.5" y2="267.5" stroke="#767676" stroke-width="1.3" stroke-linecap="square"/><line x1="677.5" y1="161.5" x2="677.5" y2="267.5" stroke="#767676" stroke-width="1.3" stroke-linecap="square"/><line x1="405.5" y1="267.5" x2="677.5" y2="267.5" stroke="#767676" stroke-width="1.3" stroke-linecap="square"/><line x1="541.50" y1="161.5" x2="541.50" y2="267.5" stroke="#555" stroke-width="1"/><line x1="405.5" y1="161.50" x2="677.5" y2="161.50" stroke="#555" stroke-width="1"/><text transform="translate(397.10,164.50) scale(0.95,1)" font-family="Liberation Sans, sans-serif" font-size="8.7" fill="#2a2a2a" text-anchor="end">0.00</text><text transform="translate(397.10,176.28) scale(0.95,1)" font-family="Liberation Sans, sans-serif" font-size="8.7" fill="#2a2a2a" text-anchor="end">-0.10</text><text transform="translate(397.10,188.06) scale(0.95,1)" font-family="Liberation Sans, sans-serif" font-size="8.7" fill="#2a2a2a" text-anchor="end">-0.20</text><text transform="translate(397.10,199.83) scale(0.95,1)" font-family="Liberation Sans, sans-serif" font-size="8.7" fill="#2a2a2a" text-anchor="end">-0.30</text><text transform="translate(397.10,211.61) scale(0.95,1)" font-family="Liberation Sans, sans-serif" font-size="8.7" fill="#2a2a2a" text-anchor="end">-0.40</text><text transform="translate(397.10,223.39) scale(0.95,1)" font-family="Liberation Sans, sans-serif" font-size="8.7" fill="#2a2a2a" text-anchor="end">-0.50</text><text transform="translate(397.10,235.17) scale(0.95,1)" font-family="Liberation Sans, sans-serif" font-size="8.7" fill="#2a2a2a" text-anchor="end">-0.60</text><text transform="translate(397.10,246.94) scale(0.95,1)" font-family="Liberation Sans, sans-serif" font-size="8.7" fill="#2a2a2a" text-anchor="end">-0.70</text><text transform="translate(397.10,258.72) scale(0.95,1)" font-family="Liberation Sans, sans-serif" font-size="8.7" fill="#2a2a2a" text-anchor="end">-0.80</text><text transform="translate(397.10,270.50) scale(0.95,1)" font-family="Liberation Sans, sans-serif" font-size="8.7" fill="#2a2a2a" text-anchor="end">-0.90</text><text transform="translate(405.30,282.50) scale(0.95,1)" font-family="Liberation Sans, sans-serif" font-size="8.7" fill="#2a2a2a" text-anchor="middle">-30</text><text transform="translate(450.63,282.50) scale(0.95,1)" font-family="Liberation Sans, sans-serif" font-size="8.7" fill="#2a2a2a" text-anchor="middle">-20</text><text transform="translate(495.97,282.50) scale(0.95,1)" font-family="Liberation Sans, sans-serif" font-size="8.7" fill="#2a2a2a" text-anchor="middle">-10</text><text transform="translate(541.30,282.50) scale(0.95,1)" font-family="Liberation Sans, sans-serif" font-size="8.7" fill="#2a2a2a" text-anchor="middle">0</text><text transform="translate(586.63,282.50) scale(0.95,1)" font-family="Liberation Sans, sans-serif" font-size="8.7" fill="#2a2a2a" text-anchor="middle">10</text><text transform="translate(631.97,282.50) scale(0.95,1)" font-family="Liberation Sans, sans-serif" font-size="8.7" fill="#2a2a2a" text-anchor="middle">20</text><text transform="translate(677.30,282.50) scale(0.95,1)" font-family="Liberation Sans, sans-serif" font-size="8.7" fill="#2a2a2a" text-anchor="middle">30</text><text transform="translate(541.50,293.00) scale(0.916,1)" font-family="Liberation Sans, sans-serif" font-size="8.2" font-weight="bold" fill="#1a1a1a" stroke="#1a1a1a" stroke-width="0.35" text-anchor="middle">Eccentricity</text><text transform="translate(376.0,214.50) rotate(-90) scale(0.955,1)" font-family="Liberation Sans, sans-serif" font-size="7.9" font-weight="bold" fill="#1a1a1a" stroke="#1a1a1a" stroke-width="0.3" text-anchor="middle">Relative peripheral J<tspan font-size="5.4" dy="1.9">0</tspan></text><line x1="450.63" y1="201.10" x2="450.63" y2="209.30" stroke="#4d4d4d" stroke-width="1"/><line x1="450.63" y1="191.50" x2="450.63" y2="199.10" stroke="#4d4d4d" stroke-width="1"/><line x1="495.97" y1="165.68" x2="495.97" y2="171.68" stroke="#4d4d4d" stroke-width="1"/><line x1="495.97" y1="169.92" x2="495.97" y2="175.92" stroke="#4d4d4d" stroke-width="1"/><line x1="541.30" y1="158.50" x2="541.30" y2="164.50" stroke="#4d4d4d" stroke-width="1"/><line x1="541.30" y1="158.50" x2="541.30" y2="164.50" stroke="#4d4d4d" stroke-width="1"/><line x1="586.63" y1="185.12" x2="586.63" y2="191.12" stroke="#4d4d4d" stroke-width="1"/><line x1="586.63" y1="182.53" x2="586.63" y2="188.53" stroke="#4d4d4d" stroke-width="1"/><line x1="631.97" y1="231.32" x2="631.97" y2="240.32" stroke="#4d4d4d" stroke-width="1"/><line x1="631.97" y1="234.79" x2="631.97" y2="241.79" stroke="#4d4d4d" stroke-width="1"/><circle cx="450.63" cy="205.20" r="3.0" fill="#fff" stroke="#92D050" stroke-width="0.9"/><circle cx="495.97" cy="168.68" r="3.0" fill="#fff" stroke="#92D050" stroke-width="0.9"/><circle cx="541.30" cy="161.50" r="3.0" fill="#fff" stroke="#92D050" stroke-width="0.9"/><circle cx="586.63" cy="188.12" r="3.0" fill="#fff" stroke="#92D050" stroke-width="0.9"/><circle cx="631.97" cy="235.82" r="3.0" fill="#fff" stroke="#92D050" stroke-width="0.9"/><circle cx="450.63" cy="195.30" r="3.1" fill="#92D050"/><circle cx="495.97" cy="172.92" r="3.1" fill="#92D050"/><circle cx="541.30" cy="161.50" r="3.1" fill="#92D050"/><circle cx="586.63" cy="185.53" r="3.1" fill="#92D050"/><circle cx="631.97" cy="238.29" r="3.1" fill="#92D050"/><path d="M450.63,204.62 L452.90,202.17 L455.17,199.79 L457.43,197.49 L459.70,195.25 L461.97,193.09 L464.23,191.00 L466.50,188.99 L468.77,187.04 L471.03,185.17 L473.30,183.37 L475.57,181.65 L477.83,179.99 L480.10,178.41 L482.37,176.90 L484.63,175.46 L486.90,174.09 L489.17,172.80 L491.43,171.58 L493.70,170.43 L495.97,169.35 L498.23,168.35 L500.50,167.41 L502.77,166.55 L505.03,165.76 L507.30,165.05 L509.57,164.40 L511.83,163.83 L514.10,163.33 L516.37,162.91 L518.63,162.55 L520.90,162.27 L523.17,162.06 L525.43,161.92 L527.70,161.85 L529.97,161.86 L532.23,161.94 L534.50,162.09 L536.77,162.31 L539.03,162.61 L541.30,162.97 L543.57,163.41 L545.83,163.93 L548.10,164.51 L550.37,165.17 L552.63,165.89 L554.90,166.69 L557.17,167.57 L559.43,168.51 L561.70,169.53 L563.97,170.62 L566.23,171.78 L568.50,173.01 L570.77,174.32 L573.03,175.70 L575.30,177.15 L577.57,178.67 L579.83,180.27 L582.10,181.94 L584.37,183.67 L586.63,185.49 L588.90,187.37 L591.17,189.33 L593.43,191.35 L595.70,193.46 L597.97,195.63 L600.23,197.87 L602.50,200.19 L604.77,202.58 L607.03,205.04 L609.30,207.58 L611.57,210.18 L613.83,212.86 L616.10,215.61 L618.37,218.43 L620.63,221.33 L622.90,224.30 L625.17,227.34 L627.43,230.45 L629.70,233.63 L631.97,236.89" fill="none" stroke="#92D050" stroke-width="1.5" stroke-dasharray="4.8 3.4"/><path d="M450.63,197.53 L452.90,195.40 L455.17,193.34 L457.43,191.34 L459.70,189.42 L461.97,187.55 L464.23,185.76 L466.50,184.03 L468.77,182.37 L471.03,180.77 L473.30,179.24 L475.57,177.77 L477.83,176.38 L480.10,175.05 L482.37,173.78 L484.63,172.58 L486.90,171.45 L489.17,170.38 L491.43,169.38 L493.70,168.45 L495.97,167.58 L498.23,166.78 L500.50,166.05 L502.77,165.38 L505.03,164.78 L507.30,164.24 L509.57,163.78 L511.83,163.37 L514.10,163.04 L516.37,162.77 L518.63,162.56 L520.90,162.43 L523.17,162.35 L525.43,162.35 L527.70,162.41 L529.97,162.54 L532.23,162.73 L534.50,163.00 L536.77,163.32 L539.03,163.72 L541.30,164.18 L543.57,164.70 L545.83,165.29 L548.10,165.95 L550.37,166.68 L552.63,167.47 L554.90,168.33 L557.17,169.25 L559.43,170.24 L561.70,171.30 L563.97,172.42 L566.23,173.61 L568.50,174.87 L570.77,176.19 L573.03,177.58 L575.30,179.03 L577.57,180.55 L579.83,182.14 L582.10,183.79 L584.37,185.51 L586.63,187.30 L588.90,189.15 L591.17,191.07 L593.43,193.06 L595.70,195.11 L597.97,197.23 L600.23,199.41 L602.50,201.66 L604.77,203.98 L607.03,206.36 L609.30,208.81 L611.57,211.33 L613.83,213.91 L616.10,216.56 L618.37,219.27 L620.63,222.06 L622.90,224.90 L625.17,227.82 L627.43,230.80 L629.70,233.85 L631.97,236.96" fill="none" stroke="#92D050" stroke-width="1.5"/><line x1="405.5" y1="323.28" x2="677.5" y2="323.28" stroke="#f2f2f2" stroke-width="1"/><line x1="405.5" y1="335.06" x2="677.5" y2="335.06" stroke="#f2f2f2" stroke-width="1"/><line x1="405.5" y1="346.83" x2="677.5" y2="346.83" stroke="#f2f2f2" stroke-width="1"/><line x1="405.5" y1="358.61" x2="677.5" y2="358.61" stroke="#f2f2f2" stroke-width="1"/><line x1="405.5" y1="370.39" x2="677.5" y2="370.39" stroke="#f2f2f2" stroke-width="1"/><line x1="405.5" y1="382.17" x2="677.5" y2="382.17" stroke="#f2f2f2" stroke-width="1"/><line x1="405.5" y1="393.94" x2="677.5" y2="393.94" stroke="#f2f2f2" stroke-width="1"/><line x1="405.5" y1="405.72" x2="677.5" y2="405.72" stroke="#f2f2f2" stroke-width="1"/><line x1="405.5" y1="311.5" x2="677.5" y2="311.5" stroke="#767676" stroke-width="1.3" stroke-linecap="square"/><line x1="405.5" y1="311.5" x2="405.5" y2="417.5" stroke="#767676" stroke-width="1.3" stroke-linecap="square"/><line x1="677.5" y1="311.5" x2="677.5" y2="417.5" stroke="#767676" stroke-width="1.3" stroke-linecap="square"/><line x1="405.5" y1="417.5" x2="677.5" y2="417.5" stroke="#767676" stroke-width="1.3" stroke-linecap="square"/><line x1="541.50" y1="311.5" x2="541.50" y2="417.5" stroke="#555" stroke-width="1"/><line x1="405.5" y1="311.50" x2="677.5" y2="311.50" stroke="#555" stroke-width="1"/><text transform="translate(397.10,314.50) scale(0.95,1)" font-family="Liberation Sans, sans-serif" font-size="8.7" fill="#2a2a2a" text-anchor="end">0.00</text><text transform="translate(397.10,326.28) scale(0.95,1)" font-family="Liberation Sans, sans-serif" font-size="8.7" fill="#2a2a2a" text-anchor="end">-0.10</text><text transform="translate(397.10,338.06) scale(0.95,1)" font-family="Liberation Sans, sans-serif" font-size="8.7" fill="#2a2a2a" text-anchor="end">-0.20</text><text transform="translate(397.10,349.83) scale(0.95,1)" font-family="Liberation Sans, sans-serif" font-size="8.7" fill="#2a2a2a" text-anchor="end">-0.30</text><text transform="translate(397.10,361.61) scale(0.95,1)" font-family="Liberation Sans, sans-serif" font-size="8.7" fill="#2a2a2a" text-anchor="end">-0.40</text><text transform="translate(397.10,373.39) scale(0.95,1)" font-family="Liberation Sans, sans-serif" font-size="8.7" fill="#2a2a2a" text-anchor="end">-0.50</text><text transform="translate(397.10,385.17) scale(0.95,1)" font-family="Liberation Sans, sans-serif" font-size="8.7" fill="#2a2a2a" text-anchor="end">-0.60</text><text transform="translate(397.10,396.94) scale(0.95,1)" font-family="Liberation Sans, sans-serif" font-size="8.7" fill="#2a2a2a" text-anchor="end">-0.70</text><text transform="translate(397.10,408.72) scale(0.95,1)" font-family="Liberation Sans, sans-serif" font-size="8.7" fill="#2a2a2a" text-anchor="end">-0.80</text><text transform="translate(397.10,420.50) scale(0.95,1)" font-family="Liberation Sans, sans-serif" font-size="8.7" fill="#2a2a2a" text-anchor="end">-0.90</text><text transform="translate(405.30,432.50) scale(0.95,1)" font-family="Liberation Sans, sans-serif" font-size="8.7" fill="#2a2a2a" text-anchor="middle">-30</text><text transform="translate(450.63,432.50) scale(0.95,1)" font-family="Liberation Sans, sans-serif" font-size="8.7" fill="#2a2a2a" text-anchor="middle">-20</text><text transform="translate(495.97,432.50) scale(0.95,1)" font-family="Liberation Sans, sans-serif" font-size="8.7" fill="#2a2a2a" text-anchor="middle">-10</text><text transform="translate(541.30,432.50) scale(0.95,1)" font-family="Liberation Sans, sans-serif" font-size="8.7" fill="#2a2a2a" text-anchor="middle">0</text><text transform="translate(586.63,432.50) scale(0.95,1)" font-family="Liberation Sans, sans-serif" font-size="8.7" fill="#2a2a2a" text-anchor="middle">10</text><text transform="translate(631.97,432.50) scale(0.95,1)" font-family="Liberation Sans, sans-serif" font-size="8.7" fill="#2a2a2a" text-anchor="middle">20</text><text transform="translate(677.30,432.50) scale(0.95,1)" font-family="Liberation Sans, sans-serif" font-size="8.7" fill="#2a2a2a" text-anchor="middle">30</text><text transform="translate(541.50,443.00) scale(0.916,1)" font-family="Liberation Sans, sans-serif" font-size="8.2" font-weight="bold" fill="#1a1a1a" stroke="#1a1a1a" stroke-width="0.35" text-anchor="middle">Eccentricity</text><text transform="translate(376.0,364.50) rotate(-90) scale(0.955,1)" font-family="Liberation Sans, sans-serif" font-size="7.9" font-weight="bold" fill="#1a1a1a" stroke="#1a1a1a" stroke-width="0.3" text-anchor="middle">Relative peripheral J<tspan font-size="5.4" dy="1.9">0</tspan></text><line x1="450.63" y1="367.57" x2="450.63" y2="383.57" stroke="#4d4d4d" stroke-width="1"/><line x1="450.63" y1="327.00" x2="450.63" y2="345.00" stroke="#4d4d4d" stroke-width="1"/><line x1="495.97" y1="318.04" x2="495.97" y2="324.04" stroke="#4d4d4d" stroke-width="1"/><line x1="495.97" y1="311.92" x2="495.97" y2="321.92" stroke="#4d4d4d" stroke-width="1"/><line x1="541.30" y1="308.50" x2="541.30" y2="314.50" stroke="#4d4d4d" stroke-width="1"/><line x1="541.30" y1="308.50" x2="541.30" y2="314.50" stroke="#4d4d4d" stroke-width="1"/><line x1="586.63" y1="344.66" x2="586.63" y2="350.66" stroke="#4d4d4d" stroke-width="1"/><line x1="586.63" y1="330.30" x2="586.63" y2="341.70" stroke="#4d4d4d" stroke-width="1"/><line x1="631.97" y1="397.90" x2="631.97" y2="409.30" stroke="#4d4d4d" stroke-width="1"/><line x1="631.97" y1="370.73" x2="631.97" y2="386.53" stroke="#4d4d4d" stroke-width="1"/><circle cx="450.63" cy="375.57" r="3.0" fill="#fff" stroke="#4472C4" stroke-width="0.9"/><circle cx="495.97" cy="321.04" r="3.0" fill="#fff" stroke="#4472C4" stroke-width="0.9"/><circle cx="541.30" cy="311.50" r="3.0" fill="#fff" stroke="#4472C4" stroke-width="0.9"/><circle cx="586.63" cy="347.66" r="3.0" fill="#fff" stroke="#4472C4" stroke-width="0.9"/><circle cx="631.97" cy="403.60" r="3.0" fill="#fff" stroke="#4472C4" stroke-width="0.9"/><circle cx="450.63" cy="336.00" r="3.1" fill="#4472C4"/><circle cx="495.97" cy="316.92" r="3.1" fill="#4472C4"/><circle cx="541.30" cy="311.50" r="3.1" fill="#4472C4"/><circle cx="586.63" cy="336.00" r="3.1" fill="#4472C4"/><circle cx="631.97" cy="378.63" r="3.1" fill="#4472C4"/><path d="M450.63,373.43 L452.90,370.08 L455.17,366.83 L457.43,363.67 L459.70,360.61 L461.97,357.64 L464.23,354.77 L466.50,351.99 L468.77,349.31 L471.03,346.72 L473.30,344.23 L475.57,341.84 L477.83,339.54 L480.10,337.33 L482.37,335.22 L484.63,333.21 L486.90,331.29 L489.17,329.46 L491.43,327.73 L493.70,326.10 L495.97,324.56 L498.23,323.12 L500.50,321.77 L502.77,320.51 L505.03,319.36 L507.30,318.29 L509.57,317.33 L511.83,316.45 L514.10,315.68 L516.37,315.00 L518.63,314.41 L520.90,313.92 L523.17,313.52 L525.43,313.22 L527.70,313.02 L529.97,312.90 L532.23,312.89 L534.50,312.97 L536.77,313.15 L539.03,313.42 L541.30,313.78 L543.57,314.24 L545.83,314.80 L548.10,315.45 L550.37,316.20 L552.63,317.04 L554.90,317.98 L557.17,319.01 L559.43,320.14 L561.70,321.36 L563.97,322.68 L566.23,324.09 L568.50,325.60 L570.77,327.20 L573.03,328.90 L575.30,330.70 L577.57,332.59 L579.83,334.57 L582.10,336.65 L584.37,338.83 L586.63,341.10 L588.90,343.46 L591.17,345.92 L593.43,348.48 L595.70,351.13 L597.97,353.88 L600.23,356.72 L602.50,359.66 L604.77,362.69 L607.03,365.82 L609.30,369.04 L611.57,372.36 L613.83,375.77 L616.10,379.28 L618.37,382.88 L620.63,386.58 L622.90,390.37 L625.17,394.26 L627.43,398.25 L629.70,402.33 L631.97,406.50" fill="none" stroke="#4472C4" stroke-width="1.5" stroke-dasharray="4.8 3.4"/><path d="M450.63,336.85 L452.90,335.20 L455.17,333.62 L457.43,332.09 L459.70,330.61 L461.97,329.19 L464.23,327.82 L466.50,326.51 L468.77,325.25 L471.03,324.04 L473.30,322.89 L475.57,321.80 L477.83,320.76 L480.10,319.78 L482.37,318.85 L484.63,317.97 L486.90,317.15 L489.17,316.39 L491.43,315.68 L493.70,315.02 L495.97,314.42 L498.23,313.87 L500.50,313.38 L502.77,312.95 L505.03,312.56 L507.30,312.24 L509.57,311.97 L511.83,311.75 L514.10,311.58 L516.37,311.48 L518.63,311.42 L520.90,311.42 L523.17,311.48 L525.43,311.59 L527.70,311.76 L529.97,311.98 L532.23,312.25 L534.50,312.58 L536.77,312.97 L539.03,313.41 L541.30,313.90 L543.57,314.45 L545.83,315.06 L548.10,315.71 L550.37,316.43 L552.63,317.20 L554.90,318.02 L557.17,318.90 L559.43,319.83 L561.70,320.82 L563.97,321.86 L566.23,322.96 L568.50,324.11 L570.77,325.31 L573.03,326.57 L575.30,327.89 L577.57,329.26 L579.83,330.69 L582.10,332.17 L584.37,333.70 L586.63,335.29 L588.90,336.94 L591.17,338.63 L593.43,340.39 L595.70,342.20 L597.97,344.06 L600.23,345.98 L602.50,347.95 L604.77,349.98 L607.03,352.06 L609.30,354.20 L611.57,356.39 L613.83,358.64 L616.10,360.94 L618.37,363.30 L620.63,365.71 L622.90,368.17 L625.17,370.70 L627.43,373.27 L629.70,375.90 L631.97,378.59" fill="none" stroke="#4472C4" stroke-width="1.5"/><rect x="97.4" y="63.2" width="32.60" height="10.90" fill="#fff" stroke="#c8c8c8" stroke-width="1"/><text transform="translate(113.70,71.65) scale(0.9,1)" font-family="Liberation Sans, sans-serif" font-size="8.5" fill="#262626" text-anchor="middle">R<tspan font-size="4.8" dy="-2.9">2</tspan><tspan dy="2.9"> = 0.97</tspan></text><rect x="293.9" y="45.7" width="33.30" height="11.20" fill="#000"/><text transform="translate(310.55,54.30) scale(0.9,1)" font-family="Liberation Sans, sans-serif" font-size="8.5" fill="#fff" text-anchor="middle">R<tspan font-size="4.8" dy="-2.9">2</tspan><tspan dy="2.9"> = 0.94</tspan></text><rect x="435.0" y="76.7" width="32.30" height="10.50" fill="#fff" stroke="#c8c8c8" stroke-width="1"/><text transform="translate(451.15,84.95) scale(0.9,1)" font-family="Liberation Sans, sans-serif" font-size="8.5" fill="#262626" text-anchor="middle">R<tspan font-size="4.8" dy="-2.9">2</tspan><tspan dy="2.9"> = 0.98</tspan></text><rect x="612.0" y="16.0" width="33.10" height="11.30" fill="#000"/><text transform="translate(628.55,24.65) scale(0.9,1)" font-family="Liberation Sans, sans-serif" font-size="8.5" fill="#fff" text-anchor="middle">R<tspan font-size="4.8" dy="-2.9">2</tspan><tspan dy="2.9"> = 1.00</tspan></text><rect x="99.8" y="215.4" width="32.40" height="10.60" fill="#fff" stroke="#c8c8c8" stroke-width="1"/><text transform="translate(116.00,223.70) scale(0.9,1)" font-family="Liberation Sans, sans-serif" font-size="8.5" fill="#262626" text-anchor="middle">R<tspan font-size="4.8" dy="-2.9">2</tspan><tspan dy="2.9"> = 0.92</tspan></text><rect x="300.2" y="189.3" width="33.60" height="11.50" fill="#000"/><text transform="translate(317.00,198.05) scale(0.9,1)" font-family="Liberation Sans, sans-serif" font-size="8.5" fill="#fff" text-anchor="middle">R<tspan font-size="4.8" dy="-2.9">2</tspan><tspan dy="2.9"> = 0.95</tspan></text><rect x="430.6" y="217.8" width="32.40" height="10.40" fill="#fff" stroke="#c8c8c8" stroke-width="1"/><text transform="translate(446.80,226.00) scale(0.9,1)" font-family="Liberation Sans, sans-serif" font-size="8.5" fill="#262626" text-anchor="middle">R<tspan font-size="4.8" dy="-2.9">2</tspan><tspan dy="2.9"> = 1.00</tspan></text><rect x="612.0" y="160.1" width="33.10" height="11.40" fill="#000"/><text transform="translate(628.55,168.80) scale(0.9,1)" font-family="Liberation Sans, sans-serif" font-size="8.5" fill="#fff" text-anchor="middle">R<tspan font-size="4.8" dy="-2.9">2</tspan><tspan dy="2.9"> = 0.99</tspan></text><rect x="97.4" y="373.7" width="32.60" height="10.70" fill="#fff" stroke="#c8c8c8" stroke-width="1"/><text transform="translate(113.70,382.05) scale(0.9,1)" font-family="Liberation Sans, sans-serif" font-size="8.5" fill="#262626" text-anchor="middle">R<tspan font-size="4.8" dy="-2.9">2</tspan><tspan dy="2.9"> = 0.91</tspan></text><rect x="293.9" y="338.4" width="33.30" height="11.50" fill="#000"/><text transform="translate(310.55,347.15) scale(0.9,1)" font-family="Liberation Sans, sans-serif" font-size="8.5" fill="#fff" text-anchor="middle">R<tspan font-size="4.8" dy="-2.9">2</tspan><tspan dy="2.9"> = 0.89</tspan></text><rect x="415.8" y="397.7" width="33.00" height="10.50" fill="#fff" stroke="#c8c8c8" stroke-width="1"/><text transform="translate(432.30,405.95) scale(0.9,1)" font-family="Liberation Sans, sans-serif" font-size="8.5" fill="#262626" text-anchor="middle">R<tspan font-size="4.8" dy="-2.9">2</tspan><tspan dy="2.9"> = 0.99</tspan></text><rect x="628.9" y="328.2" width="33.40" height="11.50" fill="#000"/><text transform="translate(645.60,336.95) scale(0.9,1)" font-family="Liberation Sans, sans-serif" font-size="8.5" fill="#fff" text-anchor="middle">R<tspan font-size="4.8" dy="-2.9">2</tspan><tspan dy="2.9"> = 0.99</tspan></text><text x="28.5" y="10.7" font-family="Liberation Sans, sans-serif" font-size="11.1" fill="#111">(A)</text><text x="356.4" y="10.7" font-family="Liberation Sans, sans-serif" font-size="11.1" fill="#111">(B)</text><text transform="translate(31.3,73.6) rotate(-90)" font-family="Liberation Sans, sans-serif" font-size="11.4" fill="#111" text-anchor="middle">Small (&lt;300 ft<tspan font-size="7.3" dy="-4.2">2</tspan><tspan dy="4.2">)</tspan></text><text transform="translate(12.0,215.3) rotate(-90)" font-family="Liberation Sans, sans-serif" font-size="10.6" fill="#111" text-anchor="middle">Home size</text><text transform="translate(31.4,216.9) rotate(-90)" font-family="Liberation Sans, sans-serif" font-size="11.5" fill="#111" text-anchor="middle">Medium (300 – 600 ft<tspan font-size="7.3" dy="-4.2">2</tspan><tspan dy="4.2">)</tspan></text><text transform="translate(31.3,363.3) rotate(-90)" font-family="Liberation Sans, sans-serif" font-size="11.15" fill="#111" text-anchor="middle">Large (&gt;600 ft<tspan font-size="7.3" dy="-4.2">2</tspan><tspan dy="4.2">)</tspan></text><circle cx="281.5" cy="460.7" r="7.8" fill="#fff" stroke="#111" stroke-width="1.5"/><text transform="translate(303.3,464.2) scale(0.935,1)" font-family="Liberation Sans, sans-serif" font-size="11.3" fill="#111">AL/CR &lt;3.00</text><circle cx="391.8" cy="460.7" r="8.7" fill="#000"/><text transform="translate(413.2,464.2) scale(0.935,1)" font-family="Liberation Sans, sans-serif" font-size="11.3" fill="#111">AL/CR ≥3.00</text></svg></body></html>
